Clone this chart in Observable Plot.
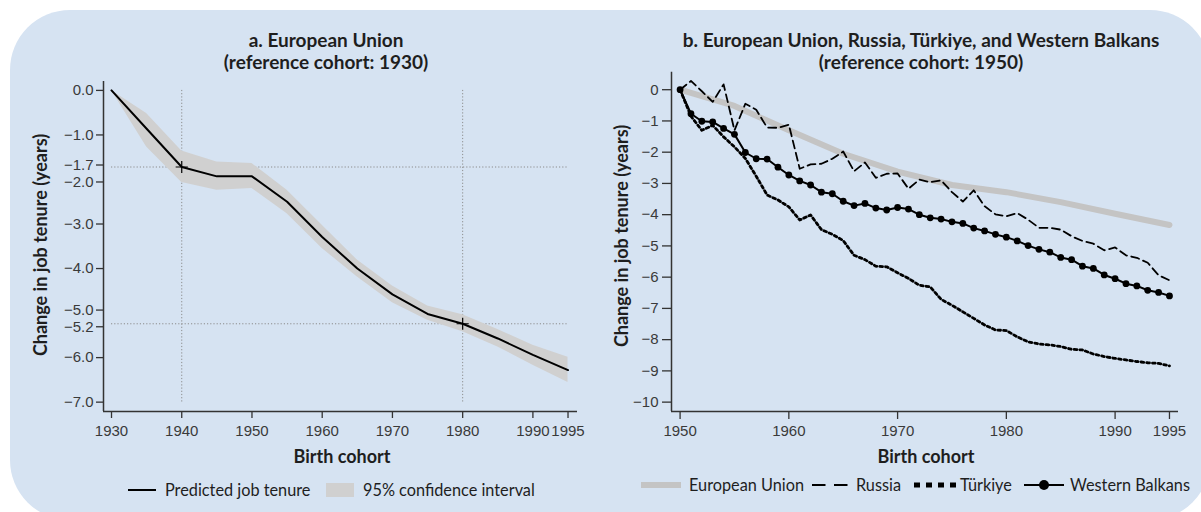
<!DOCTYPE html>
<html><head><meta charset="utf-8">
<script src="https://cdn.jsdelivr.net/npm/d3@7"></script>
<script src="https://cdn.jsdelivr.net/npm/@observablehq/plot@0.6"></script>
<style>
body{margin:0;background:#fff;}
#wrap{position:relative;width:1201px;height:512px;overflow:hidden;font-family:Lato,"Open Sans",sans-serif;color:#1e1e1e;}
#bg{position:absolute;left:10px;top:10px;width:1200px;height:510px;border-radius:60px;background:#d6e3f2;}
.t{position:absolute;text-align:center;font-size:19px;font-weight:700;line-height:22px;color:#1e1e1e;width:560px;}
.ax{position:absolute;font-size:18px;font-weight:700;color:#1e1e1e;white-space:nowrap;line-height:22px;}
.yl{transform:translate(-50%,-50%) rotate(-90deg);}
.plot{position:absolute;top:0}
.lt{position:absolute;font-size:16.3px;line-height:20px;color:#1e1e1e;white-space:nowrap;}
.sw{position:absolute;overflow:visible;}
</style></head>
<body><div id="wrap">
<div id="bg"></div>
<div class="t" style="left:46px;top:29px">a. European Union<br>(reference cohort: 1930)</div>
<div class="t" style="left:641px;top:29px">b. European Union, Russia, Türkiye, and Western Balkans<br>(reference cohort: 1950)</div>
<div id="pa" class="plot" style="left:0"></div>
<div id="pb" class="plot" style="left:600px"></div>
<div class="ax" style="left:342px;top:445px;transform:translateX(-50%)">Birth cohort</div>
<div class="ax" style="left:926px;top:445px;transform:translateX(-50%)">Birth cohort</div>
<div class="ax yl" style="left:40px;top:245px;position:absolute">Change in job tenure (years)</div>
<div class="ax yl" style="left:621px;top:236px;position:absolute">Change in job tenure (years)</div>

<svg class="sw" style="left:128px;top:480px" width="28" height="20"><line x1="0" x2="28" y1="10" y2="10" stroke="#000" stroke-width="2"/></svg>
<div class="lt" style="left:165px;top:480px">Predicted job tenure</div>
<svg class="sw" style="left:326px;top:483px" width="28" height="14"><rect width="28" height="14" fill="#d0d0d0"/></svg>
<div class="lt" style="left:363px;top:480px">95% confidence interval</div>

<svg class="sw" style="left:641px;top:475px" width="40" height="20"><line x1="0" x2="40" y1="10" y2="10" stroke="#c4c4c4" stroke-width="6"/></svg>
<div class="lt" style="left:689px;top:475px">European Union</div>
<svg class="sw" style="left:812px;top:475px" width="40" height="20"><line x1="0" x2="39" y1="10" y2="10" stroke="#000" stroke-width="2" stroke-dasharray="13.5,8.5"/></svg>
<div class="lt" style="left:856px;top:475px">Russia</div>
<svg class="sw" style="left:914px;top:475px" width="42" height="20"><line x1="0" x2="42" y1="10" y2="10" stroke="#000" stroke-width="5" stroke-dasharray="6,6"/></svg>
<div class="lt" style="left:960px;top:475px">Türkiye</div>
<svg class="sw" style="left:1024px;top:475px" width="40" height="20"><line x1="0" x2="40" y1="10" y2="10" stroke="#000" stroke-width="2"/><circle cx="20" cy="10" r="5" fill="#000"/></svg>
<div class="lt" style="left:1070px;top:475px">Western Balkans</div>
</div>
<script>
// ---------- Panel a data ----------
const yearsA = [1930,1935,1940,1945,1950,1955,1960,1965,1970,1975,1980,1985,1990,1995];
const predA  = [0,-0.86,-1.72,-1.93,-1.93,-2.50,-3.29,-4.00,-4.58,-5.02,-5.24,-5.57,-5.94,-6.28];
const upperA = [0,-0.52,-1.36,-1.61,-1.64,-2.24,-3.03,-3.81,-4.39,-4.84,-5.04,-5.37,-5.72,-5.99];
const lowerA = [0,-1.27,-2.07,-2.24,-2.20,-2.77,-3.55,-4.19,-4.77,-5.16,-5.42,-5.76,-6.17,-6.56];
const refYearsA = [1940,1980];
const refValsA = [-1.72,-5.24];
const xTicksA = [1930,1940,1950,1960,1970,1980,1990,1995];
const yTicksA = [0,-1,-1.72,-2,-3,-4,-5,-5.24,-6,-7];
// small vertical nudges for the tightly packed tick labels
const yTickNudgeA = {"-1.72":-2, "-2":2.5, "-5":-3, "-5.24":3};

// ---------- Panel b data ----------
const yearsB = [1950,1951,1952,1953,1954,1955,1956,1957,1958,1959,1960,1961,1962,1963,1964,1965,1966,1967,1968,1969,1970,1971,1972,1973,1974,1975,1976,1977,1978,1979,1980,1981,1982,1983,1984,1985,1986,1987,1988,1989,1990,1991,1992,1993,1994,1995];
const balkans = [0,-0.77,-1.01,-1.03,-1.24,-1.43,-2.01,-2.21,-2.22,-2.48,-2.73,-2.92,-3.05,-3.28,-3.33,-3.57,-3.71,-3.64,-3.79,-3.85,-3.77,-3.82,-4.00,-4.10,-4.14,-4.23,-4.28,-4.43,-4.52,-4.63,-4.72,-4.84,-4.99,-5.11,-5.20,-5.37,-5.44,-5.65,-5.72,-5.93,-6.05,-6.21,-6.28,-6.42,-6.49,-6.60];
const russia = [0,0.28,-0.05,-0.39,0.17,-1.30,-0.45,-0.64,-1.21,-1.22,-1.12,-2.53,-2.39,-2.37,-2.21,-1.98,-2.61,-2.33,-2.82,-2.69,-2.68,-3.17,-2.88,-2.96,-2.90,-3.28,-3.58,-3.22,-3.73,-3.99,-4.05,-3.95,-4.16,-4.42,-4.42,-4.48,-4.69,-4.84,-4.93,-5.14,-5.05,-5.30,-5.38,-5.54,-5.94,-6.10];
const turkiye = [0,-0.85,-1.30,-1.14,-1.51,-1.83,-2.20,-2.77,-3.37,-3.53,-3.75,-4.17,-4.01,-4.48,-4.63,-4.83,-5.30,-5.44,-5.65,-5.67,-5.86,-6.04,-6.26,-6.31,-6.71,-6.90,-7.11,-7.32,-7.53,-7.69,-7.71,-7.91,-8.07,-8.14,-8.17,-8.22,-8.31,-8.33,-8.46,-8.54,-8.60,-8.65,-8.70,-8.74,-8.76,-8.84];
const yearsEU = [1950,1955,1960,1965,1970,1975,1980,1985,1990,1995];
const eu = [0,-0.52,-1.30,-2.05,-2.62,-3.05,-3.28,-3.60,-3.97,-4.33];
const xTicksB = [1950,1960,1970,1980,1990,1995];
const yTicksB = [0,-1,-2,-3,-4,-5,-6,-7,-8,-9,-10];

const tickFont = "'Liberation Sans', Arial, sans-serif";
const axisColor = "#333";
const tickFs = 15;

// ---------- Panel a ----------
const A = yearsA.map((y,i)=>({year:y, pred:predA[i], lo:lowerA[i], hi:upperA[i]}));
const refPts = refYearsA.map((y,i)=>({year:y, v:refValsA[i]}));
const xDomA = [1928.86, 1996.35], yDomA = [-7.21, 0.2];
const yAxisA = d3.groups(yTicksA, t => yTickNudgeA[String(t)] || 0).map(([dy, ticks]) =>
  Plot.axisY(ticks, {tickSize:7, tickPadding:3, dy, tickFormat:d3.format(".1f"), label:null, fontSize:tickFs, fontFamily:tickFont, stroke:axisColor, fill:"#3a3a3a", strokeWidth:1.3}));
const plotA = Plot.plot({
  width:600, height:512, marginLeft:103, marginRight:23, marginTop:81, marginBottom:101,
  style:{background:"transparent", overflow:"visible"},
  x:{domain:xDomA, axis:null},
  y:{domain:yDomA, axis:null},
  marks:[
    Plot.ruleX(refYearsA, {x:d=>d, y1:0, y2:-7, stroke:"#8c8c8c", strokeWidth:1, strokeDasharray:"1.2,2"}),
    Plot.ruleY(refValsA, {y:d=>d, x1:1930, x2:1995, stroke:"#8c8c8c", strokeWidth:1, strokeDasharray:"1.2,2"}),
    Plot.areaY(A, {x:"year", y1:"lo", y2:"hi", fill:"#d0d0d0"}),
    Plot.lineY(A, {x:"year", y:"pred", stroke:"#000", strokeWidth:2}),
    Plot.dot(refPts, {x:"year", y:"v", symbol:"plus", r:4, stroke:"#000", strokeWidth:1.2}),
    Plot.ruleY([yDomA[0]], {stroke:axisColor, strokeWidth:1.5}),
    Plot.ruleX([xDomA[0]], {stroke:axisColor, strokeWidth:1.5}),
    Plot.axisX(xTicksA, {tickSize:7, tickPadding:7, tickFormat:d=>String(d), label:null, fontSize:tickFs, fontFamily:tickFont, stroke:axisColor, fill:"#3a3a3a", strokeWidth:1.3}),
    ...yAxisA
  ]
});
document.getElementById("pa").appendChild(plotA);

// ---------- Panel b ----------
const B = yearsB.map((y,i)=>({year:y, wb:balkans[i], ru:russia[i], tr:turkiye[i]}));
const E = yearsEU.map((y,i)=>({year:y, v:eu[i]}));
const xDomB = [1949.21, 1995.83], yDomB = [-10.3, 0.56];
const plotB = Plot.plot({
  width:601, height:512, marginLeft:71, marginRight:23, marginTop:71.7, marginBottom:101,
  style:{background:"transparent", overflow:"visible"},
  x:{domain:xDomB, axis:null},
  y:{domain:yDomB, axis:null},
  marks:[
    Plot.lineY(E, {x:"year", y:"v", stroke:"#c4c4c4", strokeWidth:6}),
    Plot.lineY(B, {x:"year", y:"ru", stroke:"#000", strokeWidth:1.8, strokeDasharray:"8,4.5"}),
    Plot.lineY(B, {x:"year", y:"tr", stroke:"#000", strokeWidth:2.8, strokeDasharray:"2.7,3"}),
    Plot.lineY(B, {x:"year", y:"wb", stroke:"#000", strokeWidth:2}),
    Plot.dot(B, {x:"year", y:"wb", r:3.4, fill:"#000"}),
    Plot.ruleY([yDomB[0]], {stroke:axisColor, strokeWidth:1.5}),
    Plot.ruleX([xDomB[0]], {stroke:axisColor, strokeWidth:1.5}),
    Plot.axisX(xTicksB, {tickSize:8, tickPadding:6, tickFormat:d=>String(d), label:null, fontSize:tickFs, fontFamily:tickFont, stroke:axisColor, fill:"#3a3a3a", strokeWidth:1.3}),
    Plot.axisY(yTicksB, {tickSize:9, tickPadding:4, tickFormat:d3.format("d"), label:null, fontSize:tickFs, fontFamily:tickFont, stroke:axisColor, fill:"#3a3a3a", strokeWidth:1.3})
  ]
});
document.getElementById("pb").appendChild(plotB);
</script>
</body></html>
